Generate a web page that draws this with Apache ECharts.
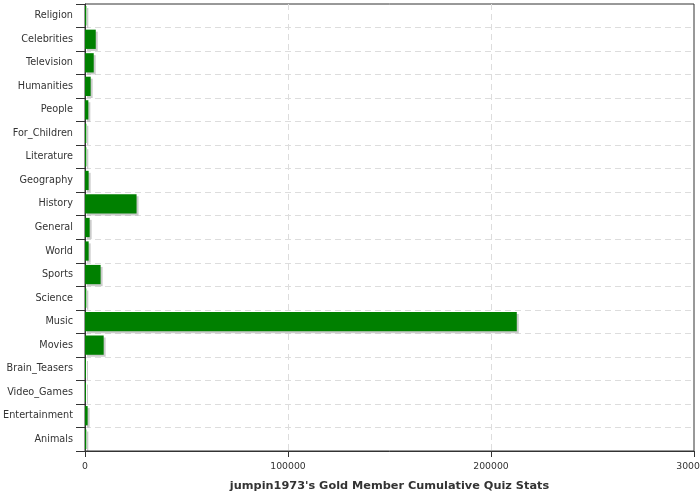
<!DOCTYPE html>
<html>
<head>
<meta charset="utf-8">
<script src="https://cdn.jsdelivr.net/npm/echarts@6/dist/echarts.min.js"></script>
<style>html,body{margin:0;padding:0;background:#fff}#c{width:700px;height:500px}</style>
</head>
<body>
<div id="c"></div>
<script>
var categories = ["Religion","Celebrities","Television","Humanities","People","For_Children","Literature","Geography","History","General","World","Sports","Science","Music","Movies","Brain_Teasers","Video_Games","Entertainment","Animals"];
var values = [650, 5300, 4300, 2800, 1650, 650, 650, 1800, 25400, 2300, 1800, 7700, 650, 212700, 9200, 500, 500, 1300, 650];
var xTicks = [0, 100000, 200000, 300000];
var titleText = "jumpin1973's Gold Member Cumulative Quiz Stats";

var chart = echarts.init(document.getElementById('c'), null, {renderer: 'canvas'});
chart.setOption({
  animation: false,
  textStyle: {fontFamily: 'DejaVu Sans'},
  grid: {left: 85, right: 6, top: 4, bottom: 49, show: true, borderColor: '#333', borderWidth: 1, containLabel: false, outerBoundsMode: 'none'},
  xAxis: {
    type: 'value',
    min: xTicks[0],
    max: xTicks[xTicks.length - 1],
    interval: xTicks[1] - xTicks[0],
    name: titleText,
    nameLocation: 'middle',
    nameGap: 30,
    nameTextStyle: {fontWeight: 'bold', fontSize: 11.3, color: '#333', fontFamily: 'DejaVu Sans'},
    axisLine: {show: true, lineStyle: {color: '#333'}},
    axisTick: {show: true, length: 6, lineStyle: {color: '#333'}},
    axisLabel: {color: '#333', fontSize: 9.3, margin: 11, formatter: function (v) { return String(v); }},
    splitLine: {show: true, showMinLine: false, showMaxLine: false, lineStyle: {color: '#ddd', type: [6, 4]}}
  },
  yAxis: {
    type: 'category',
    data: categories,
    inverse: true,
    axisLine: {show: true, lineStyle: {color: '#333'}},
    axisTick: {show: true, length: 9, lineStyle: {color: '#333'}},
    axisLabel: {color: '#333', fontSize: 9.7, margin: 12},
    splitLine: {show: true, showMinLine: false, showMaxLine: false, lineStyle: {color: '#ddd', type: [6, 4]}}
  },
  series: [{
    type: 'bar',
    data: values,
    barCategoryGap: '18%',
    itemStyle: {color: '#008000', shadowColor: 'rgba(0,0,0,0.2)', shadowBlur: 0, shadowOffsetX: 2, shadowOffsetY: 2}
  }]
});
</script>
</body>
</html>
